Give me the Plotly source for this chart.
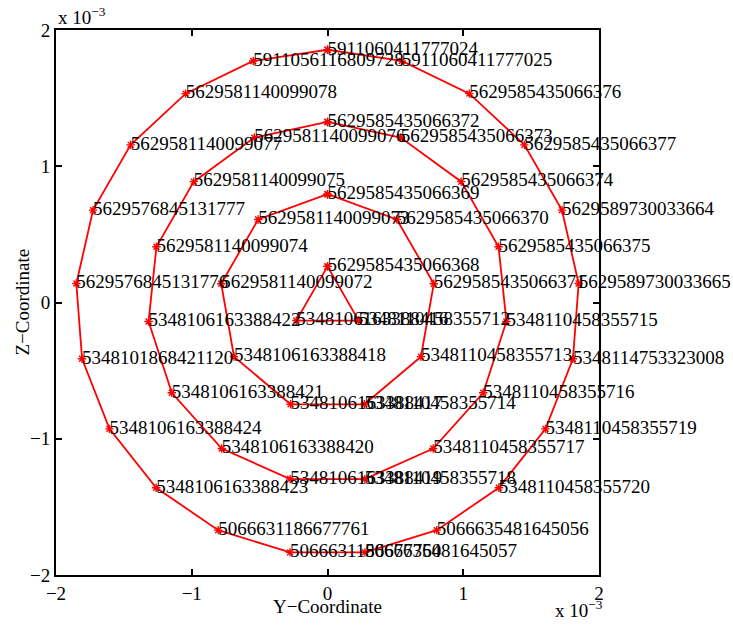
import plotly.graph_objects as go

# Node coordinates in units of 1e-3 (Y horizontal, Z vertical), ring by ring,
# listed counter-clockwise starting at the top node.
ring_a_y = [0.0, -0.2295, 0.2295]
ring_a_z = [0.265, -0.1325, -0.1325]
ring_a_ids = ["5629585435066368", "5348106163388416", "5348110458355712"]

ring_b_y = [0.0, -0.511, -0.783, -0.6885, -0.272, 0.272, 0.6885, 0.783, 0.511]
ring_b_z = [0.795, 0.609, 0.138, -0.3975, -0.747, -0.747, -0.3975, 0.138, 0.609]
ring_b_ids = ["5629585435066369", "5629581140099073", "5629581140099072",
              "5348106163388418", "5348106163388417", "5348110458355714",
              "5348110458355713", "5629585435066371", "5629585435066370"]

ring_c_y = [0.0, -0.539, -0.985, -1.260, -1.318, -1.147, -0.779, -0.275,
            0.275, 0.779, 1.147, 1.318, 1.260, 0.985, 0.539]
ring_c_z = [1.325, 1.210, 0.887, 0.409, -0.139, -0.6625, -1.072, -1.296,
            -1.296, -1.072, -0.6625, -0.139, 0.409, 0.887, 1.210]
ring_c_ids = ["5629585435066372", "5629581140099076", "5629581140099075",
              "5629581140099074", "5348106163388422", "5348106163388421",
              "5348106163388420", "5348106163388419", "5348110458355718",
              "5348110458355717", "5348110458355716", "5348110458355715",
              "5629585435066375", "5629585435066374", "5629585435066373"]

ring_d_y = [0.0, -0.547, -1.045, -1.450, -1.727, -1.850, -1.808, -1.606,
            -1.262, -0.805, -0.276, 0.276, 0.805, 1.262, 1.606, 1.808,
            1.850, 1.727, 1.450, 1.045, 0.547]
ring_d_z = [1.855, 1.773, 1.533, 1.157, 0.678, 0.139, -0.413, -0.9275,
            -1.360, -1.671, -1.834, -1.834, -1.671, -1.360, -0.9275, -0.413,
            0.139, 0.678, 1.157, 1.533, 1.773]
ring_d_ids = ["5911060411777024", "5911056116809728", "5629581140099078",
              "5629581140099077", "5629576845131777", "5629576845131776",
              "5348101868421120", "5348106163388424", "5348106163388423",
              "5066631186677761", "5066631186677760", "5066635481645057",
              "5066635481645056", "5348110458355720", "5348110458355719",
              "5348114753323008", "5629589730033665", "5629589730033664",
              "5629585435066377", "5629585435066376", "5911060411777025"]

tick_vals = [-2, -1, 0, 1, 2]
tick_text = ["\u22122", "\u22121", "0", "1", "2"]

SCALE = 1e-3
FONT = "Liberation Serif, Times New Roman, serif"
TEXT_FONT = dict(family=FONT, size=19, color="black")

rings = [
    (ring_a_y, ring_a_z, ring_a_ids),
    (ring_b_y, ring_b_z, ring_b_ids),
    (ring_c_y, ring_c_z, ring_c_ids),
    (ring_d_y, ring_d_z, ring_d_ids),
]

fig = go.Figure()

for ys, zs, _ in rings:
    # close each polygon back to its first node
    fig.add_trace(go.Scatter(
        x=[v * SCALE for v in ys + ys[:1]],
        y=[v * SCALE for v in zs + zs[:1]],
        mode="lines+markers",
        line=dict(color="#ff0000", width=1.8),
        marker=dict(symbol="asterisk-open", size=7,
                    line=dict(color="#ff0000", width=1.4)),
        hoverinfo="skip",
        showlegend=False,
        cliponaxis=False,
    ))

for ys, zs, ids in rings:
    fig.add_trace(go.Scatter(
        x=[v * SCALE for v in ys],
        y=[v * SCALE for v in zs],
        mode="text",
        text=ids,
        textposition="middle right",
        textfont=TEXT_FONT,
        hoverinfo="skip",
        showlegend=False,
        cliponaxis=False,
    ))

axis_common = dict(
    range=[-2 * SCALE, 2 * SCALE],
    tickvals=[v * SCALE for v in tick_vals],
    ticktext=tick_text,
    ticks="inside",
    ticklen=6,
    tickwidth=1.5,
    tickcolor="black",
    showline=True,
    linecolor="black",
    linewidth=2,
    mirror="ticks",
    showgrid=False,
    zeroline=False,
    automargin=False,
    tickfont=TEXT_FONT,
)

fig.update_xaxes(**axis_common)
fig.update_yaxes(**axis_common)

# axis titles
fig.add_annotation(text="Y\u2212Coordinate", xref="paper", yref="paper",
                   x=0.5, y=0, xanchor="center", yanchor="middle", yshift=-31,
                   showarrow=False, font=TEXT_FONT)
fig.add_annotation(text="Z\u2212Coordinate", xref="paper", yref="paper",
                   x=0, y=0.5, xanchor="center", yanchor="middle", xshift=-34,
                   textangle=-90, showarrow=False, font=TEXT_FONT)

# exponent markers for both axes
fig.add_annotation(text="x 10<sup>\u22123</sup>", xref="paper", yref="paper",
                   x=0, y=1, xanchor="left", yanchor="bottom", showarrow=False,
                   font=TEXT_FONT)
fig.add_annotation(text="x 10<sup>\u22123</sup>", xref="paper", yref="paper",
                   x=0.915, y=0, xanchor="left", yanchor="top", yshift=-20,
                   showarrow=False, font=TEXT_FONT)

fig.update_layout(
    width=733, height=628,
    margin=dict(l=56, r=134, t=30, b=53),
    paper_bgcolor="white",
    plot_bgcolor="white",
)

fig.write_html("out.html")
